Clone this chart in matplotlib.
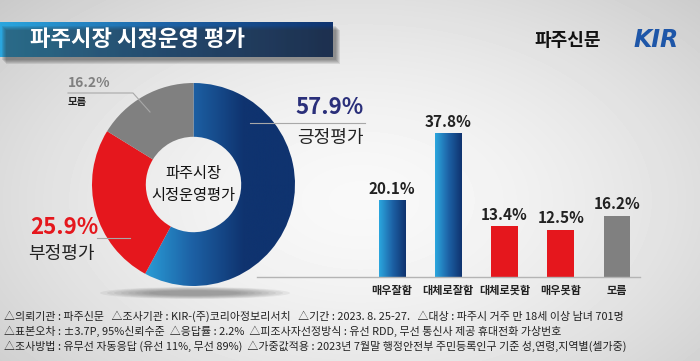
import numpy as np
import matplotlib
matplotlib.use("Agg")
import matplotlib.pyplot as plt
from matplotlib.colors import LinearSegmentedColormap
from matplotlib.patches import Rectangle, Ellipse

plt.rcParams['font.family'] = ['Noto Sans CJK KR', 'DejaVu Sans']

# data
title = '파주시장 시정운영 평가'
source = '파주신문'
center_label = '파주시장\n시정운영평가'
pie_labels = ['긍정평가', '부정평가', '모름']
pie_values = [57.9, 25.9, 16.2]
bar_labels = ['매우잘함', '대체로잘함', '대체로못함', '매우못함', '모름']
bar_values = [20.1, 37.8, 13.4, 12.5, 16.2]
notes = [
    '△의뢰기관 : 파주신문   △조사기관 : KIR-(주)코리아정보리서치   △기간 : 2023. 8. 25-27.   △대상 : 파주시 거주 만 18세 이상 남녀 701명',
    '△표본오차 : ±3.7P, 95%신뢰수준  △응답률 : 2.2%  △피조사자선정방식 : 유선 RDD, 무선 통신사 제공 휴대전화 가상번호',
    '△조사방법 : 유무선 자동응답 (유선 11%, 무선 89%)  △가중값적용 : 2023년 7월말 행정안전부 주민등록인구 기준 성,연령,지역별(셀가중)',
]

RED = '#e5171d'
GRAY = '#808080'
blues = LinearSegmentedColormap.from_list('blues', ['#2ba6de', '#1d62a6', '#0f336f'])

W, H = 700, 361
fig = plt.figure(figsize=(7, 3.61), dpi=100)


def px_axes(x0, y0, x1, y1, z=1):
    return fig.add_axes([x0 / W, 1 - y1 / H, (x1 - x0) / W, (y1 - y0) / H], zorder=z)


# background
bg = px_axes(0, 0, W, H, 0)
yy, xx = np.mgrid[0:H, 0:W]
d = np.sqrt(((xx - 360) / 430.0) ** 2 + ((yy - 200) / 260.0) ** 2)
shade = 0.975 - 0.15 * np.clip(d, 0, 1.2) ** 1.6
bg.imshow(shade, cmap='gray', vmin=0, vmax=1, extent=(0, W, H, 0), aspect='auto')

# title banner + shadow
for k in range(5):
    bg.add_patch(Rectangle((2 + k, 26 + k), 334, 34, color='#303030', alpha=0.12, lw=0))
grad = np.linspace(0, 1, 256).reshape(1, -1)
bg.imshow(grad, cmap=blues, extent=(0, 333, 57, 22), aspect='auto')

# donut shadow
for k in range(8):
    bg.add_patch(Ellipse((195, 293), 190 - 14 * k, 12 - k, color='#404040', alpha=0.07, lw=0))
bg.set_xlim(0, W)
bg.set_ylim(H, 0)
bg.axis('off')

# donut
ax = px_axes(92, 83, 295, 286, 2)
wedges, _ = ax.pie(pie_values, colors=['none', RED, GRAY], startangle=90,
                   counterclock=False, radius=1,
                   wedgeprops=dict(width=0.53, linewidth=0))
g = np.clip((np.linspace(-1, 1, 300) + 0.55) / 1.05, 0, 1).reshape(1, -1)
im = ax.imshow(g, cmap=blues, vmin=0, vmax=1, extent=(-1, 1, -1, 1), aspect='auto', zorder=0)
im.set_clip_path(wedges[0])
ax.set_xlim(-1, 1)
ax.set_ylim(-1, 1)
ax.axis('off')

# bars
bx = px_axes(257, 120, 640, 277, 2)
bar_colors = ['none', 'none', RED, RED, GRAY]
bars = bx.bar(range(len(bar_values)), bar_values, width=0.47, color=bar_colors, zorder=2)
bg_grad = np.linspace(0, 1, 64).reshape(1, -1)
for b in bars[:2]:
    bx.imshow(bg_grad, cmap=blues, extent=(b.get_x(), b.get_x() + b.get_width(), 0, b.get_height()),
              aspect='auto', zorder=2)
for i, v in enumerate(bar_values):
    bx.text(i, v + 1.0, f'{v}%', ha='center', va='bottom', fontsize=11, fontweight='bold', color='#222222')
bx.set_xticks(range(len(bar_labels)), bar_labels)
bx.tick_params(axis='x', length=0, pad=5, labelsize=8, labelcolor='#222222')
for lab in bx.get_xticklabels():
    lab.set_fontweight('bold')
bx.tick_params(axis='y', left=False, labelleft=False)
for s in ['top', 'right', 'left']:
    bx.spines[s].set_visible(False)
bx.spines['bottom'].set_color('#b4b4b4')
bx.spines['bottom'].set_linewidth(1)
bx.set_xlim(-2.4, 4.41)
bx.set_ylim(0, 41.5)
bx.patch.set_alpha(0)

# overlay texts
ov = px_axes(0, 0, W, H, 3)
ov.set_xlim(0, W)
ov.set_ylim(H, 0)
ov.axis('off')

ov.text(30, 39, title, color='white', fontsize=16, fontweight='bold', va='center')
ov.text(568, 40, source, fontsize=13, fontweight='bold', va='center', ha='center', color='#111111')
ov.text(656, 40, 'KIR', fontsize=17, fontweight='bold', fontstyle='italic', va='center', ha='center',
        color='#1e56a8', family='DejaVu Sans')

ov.text(193.5, 184.5, center_label, ha='center', va='center', fontsize=11, linespacing=1.35, color='#111111')

ov.plot([250, 365], [123, 123], color='#a8a8a8', lw=0.8)
ov.text(295, 108, f'{pie_values[0]}%', fontsize=16, fontweight='bold', color='#2a2f7a', va='center')
ov.text(297, 138, pie_labels[0], fontsize=13, color='#222222', va='center')

ov.plot([97, 130], [238, 238], color='#a8a8a8', lw=0.8)
ov.text(30, 228, f'{pie_values[1]}%', fontsize=16, fontweight='bold', color=RED, va='center')
ov.text(28, 254, pie_labels[1], fontsize=13, color='#222222', va='center')

ov.plot([68, 133, 150], [93, 93, 112], color='#a8a8a8', lw=0.8)
ov.text(68, 83, f'{pie_values[2]}%', fontsize=10, fontweight='bold', color=GRAY, va='center')
ov.text(68, 102, pie_labels[2], fontsize=7.5, fontweight='bold', color='#222222', va='center')

for i, line in enumerate(notes):
    ov.text(4, 316 + 15 * i, line, fontsize=7.9, fontweight='medium', color='#222222', va='center')

fig.savefig('out.png', dpi=100)
